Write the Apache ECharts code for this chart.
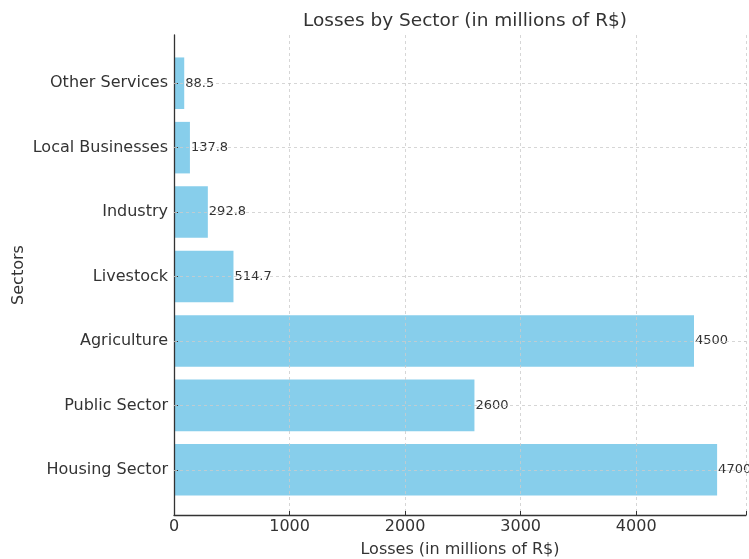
<!DOCTYPE html>
<html>
<head>
<meta charset="utf-8">
<script src="https://cdn.jsdelivr.net/npm/echarts@6/dist/echarts.min.js"></script>
<style>
  html, body { margin: 0; padding: 0; background: #fff; }
  #chart { width: 749px; height: 559px; }
</style>
</head>
<body>
<div id="chart"></div>
<script>
// data, bottom to top as in the picture
var sectors = ['Housing Sector', 'Public Sector', 'Agriculture', 'Livestock', 'Industry', 'Local Businesses', 'Other Services']
var losses = [4700, 2600, 4500, 514.7, 292.8, 137.8, 88.5]
var xTicks = [0, 1000, 2000, 3000, 4000]

var font = 'DejaVu Sans'
var chart = echarts.init(document.getElementById('chart'))

var option = {
  animation: false,
  textStyle: { fontFamily: font },
  title: {
    text: 'Losses by Sector (in millions of R$)',
    left: 460,
    textAlign: 'center',
    top: 7,
    textStyle: { fontFamily: font, fontSize: 18.5, fontWeight: 'normal', color: '#333' }
  },
  grid: [
    // frame grid: spines, x ticks, vertical grid lines
    { left: 174, right: 3, top: 35, bottom: 44, outerBoundsMode: 'none', containLabel: false },
    // bar grid, inset by matplotlib's margins
    { left: 174, right: 3, top: 51, bottom: 57, outerBoundsMode: 'none', containLabel: false }
  ],
  xAxis: [
    {
      gridIndex: 0,
      type: 'value',
      min: 0,
      max: 4950,
      interval: 1000,
      z: 3,
      name: 'Losses (in millions of R$)',
      nameLocation: 'middle',
      nameGap: 27,
      nameTextStyle: { fontFamily: font, fontSize: 16, color: '#333' },
      axisLine: { show: true, lineStyle: { color: '#333', width: 1.3 } },
      axisTick: { show: true, inside: true, length: 4, lineStyle: { color: '#333' } },
      axisLabel: {
        fontSize: 16, color: '#333', margin: 4,
        formatter: function (v) { return xTicks.indexOf(v) >= 0 ? String(v) : '' }
      },
      splitLine: { show: true, lineStyle: { color: '#ccc', type: [3, 3], width: 0.8 } }
    },
    {
      gridIndex: 1,
      type: 'value',
      min: 0,
      max: 4950,
      show: false
    }
  ],
  yAxis: [
    {
      gridIndex: 0,
      type: 'value',
      min: 0,
      max: 1,
      z: 4,
      name: 'Sectors',
      nameLocation: 'middle',
      nameRotate: 90,
      nameGap: 147,
      nameTextStyle: { fontFamily: font, fontSize: 16, color: '#333' },
      axisLine: { show: true, lineStyle: { color: '#333', width: 1.3 } },
      axisTick: { show: false },
      axisLabel: { show: false },
      splitLine: { show: false }
    },
    {
      gridIndex: 1,
      type: 'category',
      data: sectors,
      z: 4,
      axisLine: { show: false },
      axisTick: { show: true, inside: true, alignWithLabel: true, length: 4, lineStyle: { color: '#333' } },
      axisLabel: { fontSize: 16, color: '#333', margin: 6 },
      splitLine: { show: false }
    }
  ],
  series: [
    {
      type: 'bar',
      xAxisIndex: 1,
      yAxisIndex: 1,
      data: losses,
      barWidth: '80%',
      itemStyle: { color: '#87CEEB' },
      label: {
        show: true,
        position: 'right',
        distance: 1,
        fontSize: 13,
        color: '#333',
        fontFamily: font
      },
      markLine: {
        silent: true,
        symbol: 'none',
        label: { show: false },
        lineStyle: { color: '#ccc', type: [3, 3], width: 0.8 },
        data: sectors.map(function (s) { return { yAxis: s } })
      }
    }
  ]
}

chart.setOption(option)
</script>
</body>
</html>
